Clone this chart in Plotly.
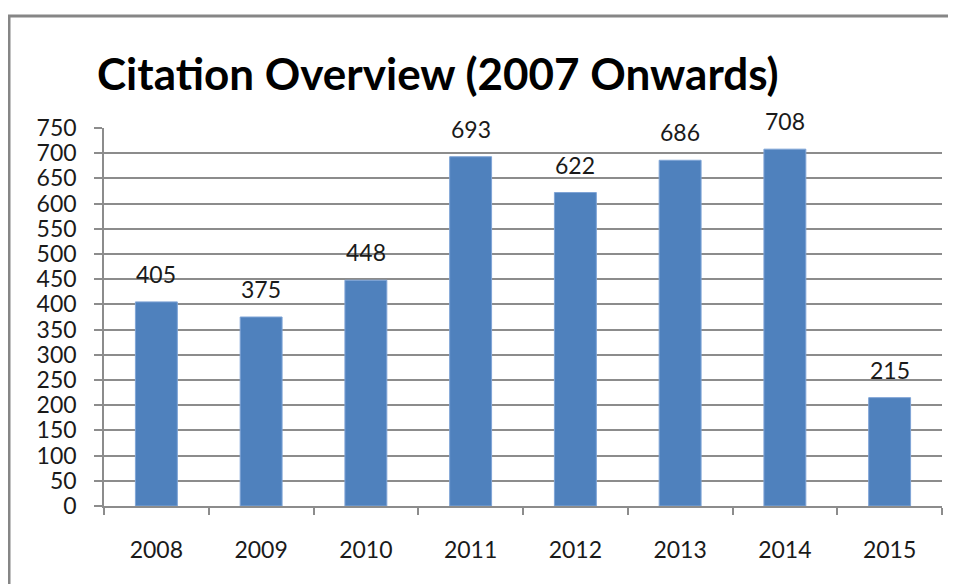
import plotly.graph_objects as go

years = ["2008", "2009", "2010", "2011", "2012", "2013", "2014", "2015"]
citations = [405, 375, 448, 693, 622, 686, 708, 215]
y_ticks = list(range(0, 751, 50))

FONT = "Lato, 'Open Sans', sans-serif"
GRID = "#8c8c8c"

fig = go.Figure()
fig.add_trace(go.Bar(x=years, y=citations, marker=dict(color="#4F81BD", line=dict(color="#7fa4d6", width=1)),
                     hoverinfo="x+y"))

for i, v in enumerate(citations):
    fig.add_annotation(x=i, y=v, text=str(v), showarrow=False, yanchor="bottom", yshift=12,
                       font=dict(family=FONT, size=23, color="#1a1a1a"))

# page body has an 8px margin, so the figure is sized/offset accordingly
fig.update_layout(
    width=948, height=576,
    margin=dict(l=96, r=14, t=120, b=78, autoexpand=False),
    paper_bgcolor="white", plot_bgcolor="white",
    bargap=0.6,
    showlegend=False,
    title=dict(text="<b>Citation Overview (2007 Onwards)</b>", x=89/948, xanchor="left",
               y=1 - 67/576, yanchor="middle",
               font=dict(family=FONT, size=44, color="#000000")),
    font=dict(family=FONT, size=23, color="#1a1a1a"),
)
fig.update_xaxes(type="category", showline=True, linecolor=GRID, linewidth=1.5,
                 ticks="outside", tickson="boundaries", ticklen=7, tickcolor=GRID, tickwidth=1.5,
                 showgrid=False, ticklabelstandoff=23, tickangle=0, tickfont=dict(size=23))
fig.update_yaxes(range=[0, 750], tickvals=y_ticks, showgrid=True, gridcolor=GRID, gridwidth=1.5,
                 showline=True, linecolor=GRID, linewidth=1.5, zeroline=False,
                 ticks="outside", ticklen=8, tickcolor=GRID, tickwidth=1.5,
                 ticklabelstandoff=13, tickfont=dict(size=23))

fig.add_shape(type="rect", xref="paper", yref="paper",
              x0=(1 - 96) / 838, x1=1.2, y0=-0.5, y1=1 + (120 - 8) / 378,
              line=dict(color="#868686", width=3), fillcolor="rgba(0,0,0,0)", layer="below")

fig.write_html("out.html")
